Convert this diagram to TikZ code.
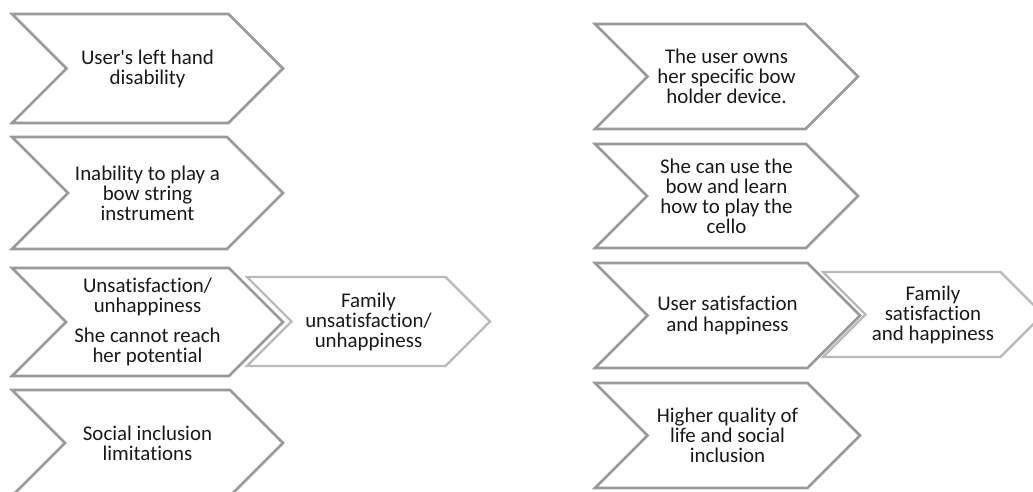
\documentclass[tikz,border=0pt]{standalone}
\usepackage{fontspec}
\setmainfont{Carlito}[Ligatures={NoCommon}]
\usepackage{tikz}

% chevron: name, left x, top y, width, height, style, text
\newcommand{\chevronbox}[7]{%
  \pgfmathsetmacro\chevh{#5/2}
  \draw[#6] (#2,#3) -- ++(#4-\chevh,0) -- ++(\chevh,\chevh) -- ++(-\chevh,\chevh)
    -- ++(\chevh-#4,0) -- ++(\chevh,-\chevh) -- cycle;
  \node[chevtext] (#1) at (#2+#4/2,#3+\chevh) {#7};
}

\begin{document}
\begin{tikzpicture}[x=0.02cm,y=-0.02cm,
    chev/.style={draw=gray!80,line width=1.5pt,fill=white},
    famchev/.style={draw=gray!55,line width=1.3pt,fill=white},
    chevtext/.style={align=center,text=black!90,inner sep=0pt,
      font=\fontsize{11.9}{11.4}\selectfont}]
  \useasboundingbox (0,0) rectangle (1033,492);

  % before
  \chevronbox{disab}{12}{14}{271}{109}{chev}{User\textquotesingle s left hand\\disability}
  \chevronbox{inabl}{12}{137}{271}{112}{chev}{Inability to play a\\bow string\\instrument}
  \chevronbox{unsat}{12}{268}{271}{108}{chev}{Unsatisfaction/\\unhappiness\\[6pt]She cannot reach\\her potential}
  \chevronbox{famunsat}{247}{277}{243}{89}{famchev}{Family\\unsatisfaction/\\unhappiness}
  \chevronbox{social}{12}{390}{271}{106}{chev}{Social inclusion\\limitations}

  % after
  \chevronbox{owns}{595}{24}{263}{105}{chev}{The user owns\\her specific bow\\holder device.}
  \chevronbox{canuse}{595}{144}{263}{104}{chev}{She can use the\\bow and learn\\how to play the\\cello}
  \chevronbox{usersat}{595}{263}{265}{105}{chev}{User satisfaction\\and happiness}
  \chevronbox{famsat}{823}{272}{220}{85}{famchev}{Family\\satisfaction\\and happiness}
  \chevronbox{quality}{595}{383}{265}{105}{chev}{Higher quality of\\life and social\\inclusion}
\end{tikzpicture}
\end{document}
